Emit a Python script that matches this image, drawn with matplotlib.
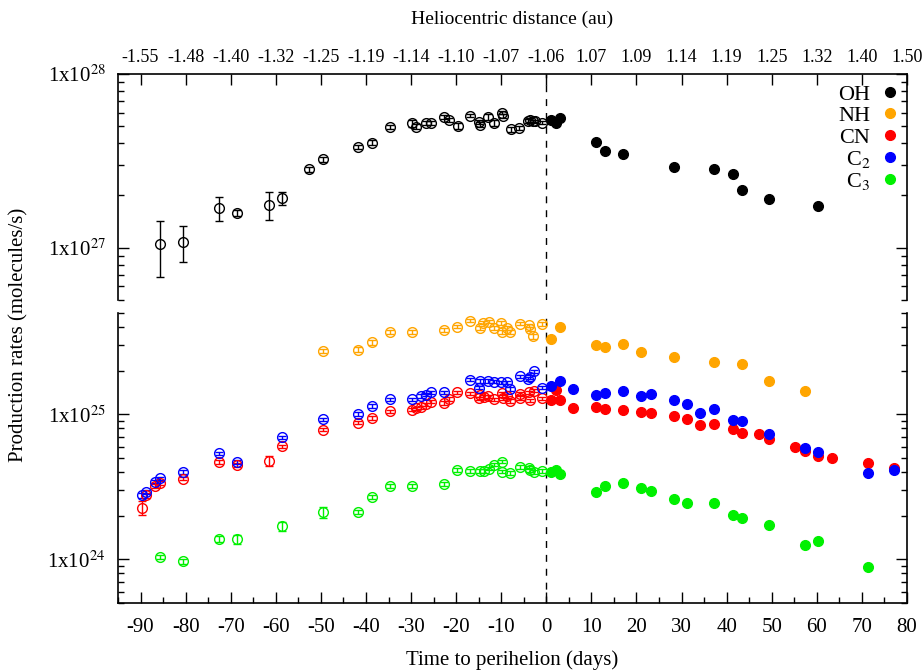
import numpy as np
import matplotlib
matplotlib.use('Agg')
import matplotlib.pyplot as plt
from matplotlib.lines import Line2D
from matplotlib.ticker import LogLocator, MultipleLocator, NullFormatter, NullLocator

plt.rcParams['font.family'] = ['Liberation Serif', 'DejaVu Serif']
plt.rcParams['mathtext.fontset'] = 'stix'
plt.rcParams['axes.unicode_minus'] = False

# --- OH (molecules/s, x1e27) ---
oh_pre_t = [-85.6, -80.6, -72.7, -68.6, -61.5, -58.7, -52.7, -49.6, -41.7, -38.6, -34.6,
            -29.8, -28.9, -26.7, -25.6, -22.7, -21.6, -19.6, -16.9, -15.0, -14.7, -13.0,
            -11.7, -9.9, -9.7, -7.9, -6.0, -4.1, -3.6, -3.0, -2.5, -0.9]
oh_pre_q = [1.05, 1.08, 1.69, 1.59, 1.77, 1.93, 2.83, 3.22, 3.81, 4.03, 4.94,
            5.21, 4.98, 5.21, 5.23, 5.64, 5.44, 5.02, 5.76, 5.29, 5.11, 5.66,
            5.21, 6.00, 5.74, 4.81, 4.89, 5.37, 5.44, 5.37, 5.33, 5.25]
oh_pre_e = [0.37, 0.25, 0.27, 0.06, 0.32, 0.17, 0.10, 0.10, 0.10, 0.15, 0.12,
            0.25, 0.15, 0.12, 0.12, 0.15, 0.12, 0.20, 0.12, 0.15, 0.15, 0.25,
            0.20, 0.15, 0.15, 0.15, 0.12, 0.12, 0.12, 0.10, 0.10, 0.10]
oh_post_t = [1.0, 2.1, 3.1, 11.0, 13.0, 17.0, 28.4, 37.3, 41.3, 43.3, 49.3, 60.3]
oh_post_q = [5.45, 5.21, 5.56, 4.08, 3.61, 3.47, 2.92, 2.85, 2.67, 2.14, 1.91, 1.73]

# --- NH (x1e25) ---
nh_pre_t = [-49.6, -41.7, -38.6, -34.6, -29.7, -22.7, -19.7, -16.9, -14.7, -14.1, -12.8,
            -11.6, -10.0, -9.8, -8.7, -8.0, -5.9, -3.9, -3.6, -3.0, -1.0]
nh_pre_q = [2.74, 2.80, 3.15, 3.68, 3.70, 3.84, 4.03, 4.43, 3.92, 4.29, 4.36,
            3.92, 4.27, 3.68, 3.96, 3.68, 4.22, 4.11, 3.88, 3.45, 4.18]
nh_pre_e = [0.10, 0.10, 0.12, 0.12, 0.12, 0.12, 0.12, 0.12, 0.12, 0.12, 0.12,
            0.12, 0.12, 0.12, 0.12, 0.12, 0.12, 0.12, 0.12, 0.12, 0.12]
nh_post_t = [1.0, 3.1, 11.0, 13.0, 17.0, 21.0, 28.4, 37.3, 43.3, 49.3, 57.3]
nh_post_q = [3.29, 4.00, 3.02, 2.90, 3.07, 2.68, 2.50, 2.31, 2.22, 1.71, 1.46]

# --- CN (x1e24) ---
cn_pre_t = [-89.6, -88.7, -86.7, -85.6, -80.6, -72.7, -68.6, -61.5, -58.7, -49.6, -41.7,
            -38.6, -34.6, -29.7, -28.9, -27.8, -26.7, -25.6, -22.7, -21.6, -19.7, -16.9,
            -15.0, -14.7, -13.9, -13.0, -11.7, -9.8, -9.5, -8.7, -8.0, -5.9, -5.9,
            -3.9, -3.6, -2.8, -1.0]
cn_pre_q = [2.27, 2.77, 3.22, 3.36, 3.61, 4.67, 4.45, 4.77, 6.04, 7.84, 8.77,
            9.44, 10.5, 10.8, 11.0, 11.2, 11.7, 12.2, 12.0, 12.8, 14.2, 14.0,
            12.9, 13.6, 13.2, 13.3, 12.7, 14.0, 12.9, 13.4, 12.4, 13.9, 13.0,
            14.2, 12.5, 14.5, 12.9]
cn_pre_e = [0.25, 0.10, 0.10, 0.10, 0.10, 0.15, 0.15, 0.40, 0.15, 0.20, 0.25,
            0.25, 0.30, 0.30, 0.30, 0.30, 0.30, 0.30, 0.35, 0.35, 0.35, 0.35,
            0.35, 0.35, 0.35, 0.35, 0.35, 0.35, 0.35, 0.35, 0.35, 0.35, 0.35,
            0.35, 0.35, 0.35, 0.35]
cn_post_t = [1.0, 2.2, 3.1, 5.9, 11.0, 13.0, 17.0, 21.0, 23.3, 28.4, 31.3, 34.1,
             37.3, 41.3, 43.3, 47.2, 49.3, 55.1, 57.3, 60.3, 63.3, 71.3, 77.1]
cn_post_q = [12.6, 14.8, 12.6, 11.0, 11.3, 10.9, 10.7, 10.4, 10.2, 9.73, 9.29, 8.49,
             8.63, 7.97, 7.48, 7.28, 6.73, 5.96, 5.59, 5.13, 4.97, 4.65, 4.29]

# --- C2 (x1e24) ---
c2_pre_t = [-89.6, -88.7, -86.7, -85.6, -80.6, -72.7, -68.6, -58.7, -49.6, -41.7,
            -38.6, -34.6, -29.7, -27.8, -26.7, -25.6, -22.7, -16.9, -15.0, -14.7,
            -13.0, -11.7, -10.0, -8.7, -8.0, -5.9, -4.1, -3.6, -2.8, -1.0]
c2_pre_q = [2.77, 2.93, 3.44, 3.62, 4.00, 5.39, 4.69, 6.94, 9.24, 10.0,
            11.4, 12.7, 12.7, 13.4, 13.7, 14.2, 14.2, 17.3, 15.3, 17.0,
            17.0, 16.8, 16.6, 16.6, 15.0, 18.3, 17.6, 18.1, 19.8, 15.3]
c2_pre_e = [0.10, 0.10, 0.10, 0.10, 0.12, 0.15, 0.15, 0.20, 0.25, 0.30,
            0.30, 0.35, 0.35, 0.35, 0.35, 0.35, 0.40, 0.45, 0.45, 0.45,
            0.45, 0.45, 0.45, 0.45, 0.45, 0.50, 0.50, 0.50, 0.50, 0.45]
c2_post_t = [1.0, 3.1, 5.9, 11.0, 13.0, 17.0, 21.0, 23.3, 28.4, 31.3, 34.1, 37.3,
             41.3, 43.3, 49.3, 57.3, 60.3, 71.3, 77.1]
c2_post_q = [15.8, 17.1, 14.9, 13.6, 14.0, 14.5, 13.3, 13.9, 12.6, 11.8, 10.2, 10.9,
             9.18, 9.04, 7.28, 5.86, 5.50, 3.96, 4.11]

# --- C3 (x1e24) ---
c3_pre_t = [-85.6, -80.6, -72.7, -68.6, -58.7, -49.6, -41.7, -38.6, -34.6, -29.7,
            -22.7, -19.7, -16.9, -14.7, -13.9, -12.8, -11.6, -9.8, -9.8, -8.0,
            -5.9, -3.9, -3.6, -2.8, -1.0]
c3_pre_q = [1.04, 0.97, 1.38, 1.38, 1.70, 2.12, 2.12, 2.69, 3.21, 3.21,
            3.31, 4.15, 4.09, 4.09, 4.07, 4.22, 4.50, 4.72, 4.03, 3.94,
            4.33, 4.29, 4.15, 4.00, 4.05]
c3_pre_e = [0.04, 0.04, 0.07, 0.10, 0.12, 0.18, 0.08, 0.10, 0.10, 0.10,
            0.10, 0.12, 0.12, 0.12, 0.12, 0.12, 0.12, 0.12, 0.12, 0.12,
            0.12, 0.12, 0.12, 0.12, 0.12]
c3_post_t = [1.0, 2.2, 3.1, 11.0, 13.0, 17.0, 21.0, 23.3, 28.4, 31.3, 37.3, 41.3,
             43.3, 49.3, 57.3, 60.3, 71.3]
c3_post_q = [4.00, 4.15, 3.90, 2.93, 3.22, 3.36, 3.12, 2.98, 2.61, 2.44, 2.43, 2.02,
             1.93, 1.73, 1.25, 1.33, 0.886]

day_ticks = list(range(-90, 81, 10))
rh_labels = ['-1.55', '-1.48', '-1.40', '-1.32', '-1.25', '-1.19', '-1.14', '-1.10', '-1.07',
             '-1.06', '1.07', '1.09', '1.14', '1.19', '1.25', '1.32', '1.40', '1.50']

species = ['OH', 'NH', 'CN', 'C$_2$', 'C$_3$']
colors = ['black', '#FFA500', '#FF0000', '#0000FF', '#00F000']

W, H = 922, 670
fig = plt.figure(figsize=(W / 100, H / 100), dpi=100)
x0, x1 = 118, 907
ax_top = fig.add_axes([x0 / W, 1 - 300 / H, (x1 - x0) / W, (300 - 74) / H])
ax_bot = fig.add_axes([x0 / W, 1 - 603 / H, (x1 - x0) / W, (603 - 313) / H])

MS = 7


def draw(ax, t_pre, q_pre, e_pre, t_post, q_post, scale, color):
    # open circles with error bars before perihelion, filled after
    ax.errorbar(t_pre, np.array(q_pre) * scale, yerr=np.array(e_pre) * scale, fmt='o',
                ms=MS, mfc='none', mec=color, mew=1.0, ecolor=color, elinewidth=1.0,
                capsize=3, capthick=1.0, zorder=3)
    ax.plot(t_post, np.array(q_post) * scale, 'o', ms=MS, color=color, mec=color, zorder=3)


draw(ax_top, oh_pre_t, oh_pre_q, oh_pre_e, oh_post_t, oh_post_q, 1e27, colors[0])
draw(ax_bot, nh_pre_t, nh_pre_q, nh_pre_e, nh_post_t, nh_post_q, 1e25, colors[1])
draw(ax_bot, cn_pre_t, cn_pre_q, cn_pre_e, cn_post_t, cn_post_q, 1e24, colors[2])
draw(ax_bot, c2_pre_t, c2_pre_q, c2_pre_e, c2_post_t, c2_post_q, 1e24, colors[3])
draw(ax_bot, c3_pre_t, c3_pre_q, c3_pre_e, c3_post_t, c3_post_q, 1e24, colors[4])

for ax in (ax_top, ax_bot):
    ax.set_yscale('log')
    ax.set_xlim(-95, 80)
    ax.axvline(0, color='black', lw=1.0, ls=(0, (5, 5)), zorder=1)
    ax.yaxis.set_major_locator(LogLocator(base=10))
    ax.yaxis.set_minor_locator(LogLocator(base=10, subs=np.arange(2, 10)))
    ax.yaxis.set_minor_formatter(NullFormatter())
    ax.tick_params(axis='y', which='both', direction='in', left=True, right=True,
                   labelsize=15, pad=9)
    ax.tick_params(axis='y', which='major', length=8, width=1)
    ax.tick_params(axis='y', which='minor', length=4, width=1)
    for s in ax.spines.values():
        s.set_linewidth(1.2)

fmt = lambda v, p: '1x10$^{%d}$' % round(np.log10(v))
ax_top.set_ylim(5e26, 1e28)
ax_bot.set_ylim(5e23, 5e25)
ax_top.yaxis.set_major_formatter(plt.FuncFormatter(fmt))
ax_bot.yaxis.set_major_formatter(plt.FuncFormatter(fmt))

# top panel: heliocentric distance axis on top
ax_top.spines['bottom'].set_visible(False)
ax_top.xaxis.tick_top()
ax_top.xaxis.set_label_position('top')
ax_top.set_xticks(day_ticks)
ax_top.set_xticklabels(rh_labels)
ax_top.xaxis.set_minor_locator(NullLocator())
ax_top.tick_params(axis='x', which='major', direction='in', length=8, width=1,
                   labelsize=13, pad=6, top=True, bottom=False)
ax_top.set_xlabel('Heliocentric distance (au)', fontsize=14, labelpad=18)

# bottom panel: days axis
ax_bot.spines['top'].set_visible(False)
ax_bot.set_xticks(day_ticks)
ax_bot.xaxis.set_minor_locator(MultipleLocator(5))
ax_bot.tick_params(axis='x', which='both', direction='in', top=False, bottom=True,
                   labelsize=15, pad=11)
ax_bot.tick_params(axis='x', which='major', length=8, width=1)
ax_bot.tick_params(axis='x', which='minor', length=4, width=1)
ax_bot.set_xlabel('Time to perihelion (days)', fontsize=15, labelpad=9)

fig.text(19 / W, 1 - 335 / H, 'Production rates (molecules/s)', rotation=90,
         ha='center', va='center', fontsize=15)

handles = [Line2D([], [], ls='none', marker='o', ms=MS, color=c) for c in colors]
ax_top.legend(handles, species, loc='upper right', frameon=False, markerfirst=False,
              fontsize=16, handletextpad=0.6, labelspacing=0.05, borderaxespad=0.05,
              handlelength=0.6)

fig.savefig('out.png', dpi=100)
